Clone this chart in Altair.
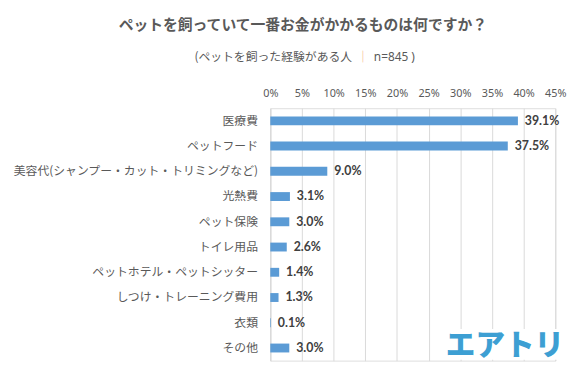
import altair as alt
import pandas as pd

categories = ["医療費", "ペットフード", "美容代(シャンプー・カット・トリミングなど)", "光熱費",
              "ペット保険", "トイレ用品", "ペットホテル・ペットシッター", "しつけ・トレーニング費用",
              "衣類", "その他"]
values = [39.1, 37.5, 9.0, 3.1, 3.0, 2.6, 1.4, 1.3, 0.1, 3.0]
tick_values = [0, 5, 10, 15, 20, 25, 30, 35, 40, 45]

title_text = "ペットを飼っていて一番お金がかかるものは何ですか？"
sub_left = "(ペットを飼った経験がある人"
sub_sep = "｜"
sub_right = "n=845 )"
logo_text = "エアトリ"

df = pd.DataFrame({"cat": categories, "val": values,
                   "lab": [f"{v:.1f}%" for v in values]})

W, H = 289, 256
xscale = alt.Scale(domain=[0, 45], nice=False)
xaxis = alt.Axis(orient="top", values=tick_values, labelExpr="datum.value + '%'",
                 domain=False, ticks=False, grid=True, gridColor="#d9d9d9",
                 labelPadding=10, labelFont="Noto Sans", labelFontSize=11,
                 labelColor="#595959", labelOverlap=False, labelBound=False,
                 labelFlush=False, labelSeparation=0)
yaxis = alt.Axis(domain=True, domainColor="#d9d9d9", ticks=False, labelPadding=13,
                 labelFont="Noto Sans CJK JP", labelFontSize=12, labelColor="#595959",
                 labelLimit=300)
yscale = alt.Scale(paddingInner=0, paddingOuter=0)

bars = alt.Chart(df).mark_bar(size=9, color="#5b9bd5").encode(
    x=alt.X("val:Q", scale=xscale, title=None, axis=xaxis),
    y=alt.Y("cat:N", sort=categories, title=None, scale=yscale, axis=yaxis),
)

labels = alt.Chart(df).mark_text(align="left", baseline="middle", dx=7, font="Lato",
                                 fontWeight="bold", fontSize=12.5, color="#404040").encode(
    x=alt.X("val:Q", scale=xscale, title=None, axis=xaxis),
    y=alt.Y("cat:N", sort=categories, title=None, scale=yscale, axis=yaxis),
    text="lab:N")

def txt(s, x, y, **kw):
    return alt.Chart(pd.DataFrame({"t": [s]})).mark_text(**kw).encode(
        text="t:N", x=alt.value(x), y=alt.value(y))

title = txt(title_text, 33, -84, font="Noto Sans CJK JP", fontWeight="bold", fontSize=15,
            color="#595959", align="center", baseline="middle")
s1 = txt(sub_left, 83, -52, font="Noto Sans CJK JP", fontSize=12, color="#595959",
         align="right", baseline="middle")
s2 = txt(sub_sep, 94, -52, font="Noto Sans CJK JP", fontSize=12, color="#f4b183",
         align="center", baseline="middle")
s3 = txt(sub_right, 105, -52, font="Noto Sans", fontSize=12, color="#595959",
         align="left", baseline="middle")

logo_bg = alt.Chart(pd.DataFrame({"a": [0]})).mark_rect(color="white").encode(
    x=alt.value(178), x2=alt.value(296), y=alt.value(224), y2=alt.value(255))
logo = txt(logo_text, 238, 241, font="Noto Sans CJK JP", fontWeight=900, fontSize=30,
           color="#3d9fd3", align="center", baseline="middle")

chart = alt.layer(bars, labels, logo_bg, logo, title, s1, s2, s3).properties(
    width=W, height=H,
    autosize=alt.AutoSizeParams(type="none"),
    padding={"left": 266, "top": 99, "right": 20, "bottom": 15},
).configure_view(stroke=None).configure(background="white")

chart.save("out.html", embed_options={"renderer": "svg", "actions": False})
